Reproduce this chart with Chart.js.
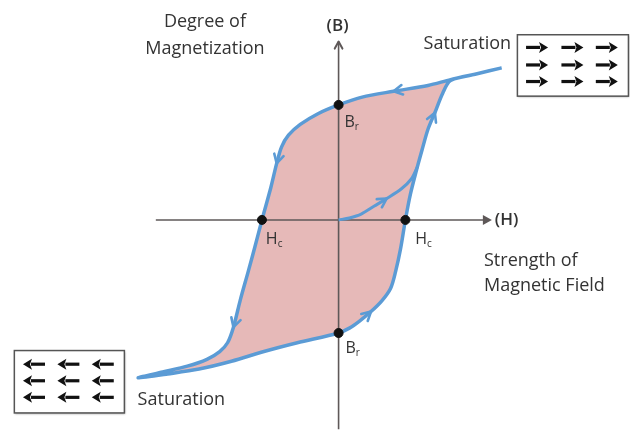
<!DOCTYPE html>
<html>
<head>
<meta charset="utf-8">
<script src="https://cdn.jsdelivr.net/npm/chart.js@4.4.0/dist/chart.umd.min.js"></script>
<style>
  body { margin: 0; background: #ffffff; }
  #wrap { width: 630px; height: 435px; }
</style>
</head>
<body>
<div id="wrap"><canvas id="hysteresis" width="630" height="435"></canvas></div>
<script>
// field strength H and flux density B (arbitrary units)
// descending branch: positive saturation -> negative saturation
const upperH = [16.6, 14.1, 11.4, 9.1, 5.6, 2.4, 0, -2.1, -3.9, -5.1, -5.8, -6.3, -6.9,
  -7.8, -8.5, -9.2, -10.0, -10.7, -11.3, -12.1, -13.4, -15.4, -17.9, -20.4];
const upperB = [15.6, 15.0, 14.4, 13.8, 13.2, 12.6, 11.8, 10.9, 9.8, 8.7, 7.5, 5.8, 3.3,
  0, -2.7, -5.3, -8.2, -11.0, -12.6, -13.5, -14.3, -15.0, -15.6, -16.2];

// ascending branch: negative saturation -> positive saturation
const lowerH = [-17.4, -14.2, -10.9, -7.6, -4.2, 0, 1.1, 2.1, 3.3, 4.4, 5.3, 5.8, 6.3, 6.8,
  7.3, 7.9, 8.5, 9.1, 9.8, 10.6, 11.4, 14.1, 16.6];
const lowerB = [-15.8, -15.3, -14.5, -13.5, -12.6, -11.6, -11.1, -10.4, -9.4, -8.3, -7.0, -5.3, -3.0, 0,
  2.6, 5.0, 7.2, 9.3, 11.0, 13.0, 14.3, 15.0, 15.6];

// initial magnetization curve from the origin
const initialH = [0, 1.1, 2.3, 3.6, 4.9, 6.4, 7.4, 8.0];
const initialB = [0, 0.2, 0.6, 1.4, 2.2, 3.2, 4.2, 5.4];

// remanence (Br) and coercivity (Hc) points
const markH = [0, 0, -7.8, 6.8];
const markB = [11.8, -11.6, 0, 0];

// where the direction arrows sit on each curve (point indices)
const upperArrows = [4, 11, 17];
const lowerArrows = [8, 18];
const initialArrows = [4];

const BLUE = "#5b9bd5";
const PINK = "#e6b9b8";
const AXIS = "#5e5858";
const TEXT = "#333333";
const FONT = "'Open Sans', 'Noto Sans', sans-serif";

function toPoints(xs, ys) {
  return xs.map(function (x, i) { return { x: x, y: ys[i] }; });
}

const loopPoints = toPoints(upperH.concat(lowerH), upperB.concat(lowerB));
const loopArrows = upperArrows.concat(lowerArrows.map(function (i) { return i + upperH.length; }));

// axis extent (data units)
const vAxis = [{ x: 0, y: -21.5 }, { x: 0, y: 18.3 }];
const hAxis = [{ x: -18.6, y: 0 }, { x: 15.4, y: 0 }];

function chevron(ctx, x, y, ang, len, color, width) {
  ctx.save();
  ctx.strokeStyle = color;
  ctx.lineWidth = width;
  ctx.lineCap = "round";
  ctx.lineJoin = "round";
  ctx.beginPath();
  ctx.moveTo(x - len * Math.cos(ang - 0.5), y - len * Math.sin(ang - 0.5));
  ctx.lineTo(x, y);
  ctx.lineTo(x - len * Math.cos(ang + 0.5), y - len * Math.sin(ang + 0.5));
  ctx.stroke();
  ctx.restore();
}

function blockArrow(ctx, cx, cy, dir) {
  // dir: 1 to the right, -1 to the left
  var half = 11, head = 9;
  ctx.save();
  ctx.fillStyle = "#111";
  ctx.strokeStyle = "#111";
  ctx.lineWidth = 3.2;
  ctx.beginPath();
  ctx.moveTo(cx - dir * half, cy);
  ctx.lineTo(cx + dir * (half - head + 1), cy);
  ctx.stroke();
  ctx.beginPath();
  ctx.moveTo(cx + dir * half, cy);
  ctx.lineTo(cx + dir * (half - head), cy - 5.5);
  ctx.lineTo(cx + dir * (half - head + 2), cy);
  ctx.lineTo(cx + dir * (half - head), cy + 5.5);
  ctx.closePath();
  ctx.fill();
  ctx.restore();
}

const annotations = {
  id: "annotations",
  afterDatasetsDraw: function (chart) {
    var ctx = chart.ctx;
    var sx = chart.scales.x;
    var sy = chart.scales.y;
    function px(v) { return sx.getPixelForValue(v); }
    function py(v) { return sy.getPixelForValue(v); }

    // arrows along the curves, following the local direction of the line
    function curveArrows(datasetIndex, indices) {
      var pts = chart.getDatasetMeta(datasetIndex).data;
      indices.forEach(function (i) {
        var a = pts[i - 1], b = pts[i + 1], p = pts[i];
        var ang = Math.atan2(b.y - a.y, b.x - a.x);
        chevron(ctx, p.x, p.y, ang, 10, BLUE, 2.6);
      });
    }
    curveArrows(2, loopArrows);
    curveArrows(1, initialArrows);

    // axis heads
    chevron(ctx, px(vAxis[1].x), py(vAxis[1].y), -Math.PI / 2, 8, AXIS, 2);
    var hx = px(hAxis[1].x), hy = py(hAxis[1].y);
    ctx.save();
    ctx.fillStyle = AXIS;
    ctx.beginPath();
    ctx.moveTo(hx + 2, hy);
    ctx.lineTo(hx - 7, hy - 5);
    ctx.lineTo(hx - 7, hy + 5);
    ctx.closePath();
    ctx.fill();
    ctx.restore();

    // text
    ctx.save();
    ctx.fillStyle = TEXT;
    ctx.textBaseline = "middle";
    function label(t, x, y, align, weight, size) {
      ctx.font = (weight || "normal") + " " + (size || 18) + "px " + FONT;
      ctx.textAlign = align;
      ctx.fillText(t, px(x), py(y));
    }
    label("Degree of", -13.6, 20.3, "center");
    label("Magnetization", -13.6, 17.6, "center");
    label("(B)", -0.1, 19.9, "center", "600", 17);
    label("(H)", 15.9, 0, "left", "600", 17);
    label("Saturation", 13.1, 18.1, "center");
    label("Saturation", -16.0, -18.5, "center");
    label("Strength of", 14.8, -4.2, "left");
    label("Magnetic Field", 14.8, -6.8, "left");

    function subLabel(main, sub, x, y) {
      ctx.textAlign = "left";
      ctx.font = "16px " + FONT;
      ctx.fillText(main, px(x), py(y));
      var w = ctx.measureText(main).width;
      ctx.font = "10px " + FONT;
      ctx.fillText(sub, px(x) + w, py(y) + 5);
    }
    subLabel("B", "r", 0.6, 10.0);
    subLabel("B", "r", 0.7, -13.2);
    subLabel("H", "c", -7.4, -2.0);
    subLabel("H", "c", 7.8, -2.0);
    ctx.restore();

    // domain boxes
    function box(x0, y0, x1, y1, cols, rows, dir) {
      ctx.save();
      ctx.shadowColor = "rgba(0,0,0,0.35)";
      ctx.shadowBlur = 2;
      ctx.shadowOffsetX = 1;
      ctx.shadowOffsetY = 1;
      ctx.fillStyle = "#ffffff";
      ctx.fillRect(px(x0), py(y0), px(x1) - px(x0), py(y1) - py(y0));
      ctx.restore();
      ctx.save();
      ctx.strokeStyle = "#555";
      ctx.lineWidth = 1.5;
      ctx.strokeRect(px(x0), py(y0), px(x1) - px(x0), py(y1) - py(y0));
      ctx.restore();
      rows.forEach(function (r) {
        cols.forEach(function (c) { blockArrow(ctx, px(c), py(r), dir); });
      });
    }
    // the right box runs off the edge of the picture
    box(18.2, 19.0, 29.5, 12.7, [20.2, 23.8, 27.3], [17.7, 15.9, 14.2], 1);
    box(-33.0, -13.4, -21.8, -19.8, [-31.0, -27.5, -24.0], [-14.8, -16.5, -18.2], -1);
  },
};

new Chart(document.getElementById("hysteresis"), {
  type: "scatter",
  data: {
    datasets: [
      {
        // Br and Hc markers
        data: toPoints(markH, markB),
        pointRadius: 4.5,
        pointBackgroundColor: "#111",
        pointBorderColor: "#111",
        showLine: false,
        order: 0,
      },
      {
        // initial magnetization
        data: toPoints(initialH, initialB),
        showLine: true,
        borderColor: BLUE,
        borderWidth: 3,
        pointRadius: 0,
        tension: 0.3,
        fill: false,
        order: 1,
      },
      {
        // hysteresis loop outline
        data: loopPoints,
        showLine: true,
        borderColor: BLUE,
        borderWidth: 3.5,
        pointRadius: 0,
        tension: 0.3,
        fill: false,
        order: 1,
      },
      {
        data: vAxis,
        showLine: true,
        borderColor: AXIS,
        borderWidth: 1.6,
        pointRadius: 0,
        order: 2,
      },
      {
        data: hAxis,
        showLine: true,
        borderColor: AXIS,
        borderWidth: 1.6,
        pointRadius: 0,
        order: 2,
      },
      {
        // area enclosed by the loop
        data: loopPoints,
        showLine: true,
        borderColor: "rgba(0,0,0,0)",
        borderWidth: 0,
        pointRadius: 0,
        tension: 0.3,
        fill: "shape",
        backgroundColor: PINK,
        order: 3,
      },
    ],
  },
  options: {
    responsive: false,
    animation: false,
    devicePixelRatio: 1,
    layout: { padding: 0 },
    plugins: {
      legend: { display: false },
      tooltip: { enabled: false },
    },
    scales: {
      x: { type: "linear", min: -33.9, max: 29.1, display: false },
      y: { type: "linear", min: -21.5, max: 22.0, display: false },
    },
  },
  plugins: [annotations],
});
</script>
</body>
</html>
